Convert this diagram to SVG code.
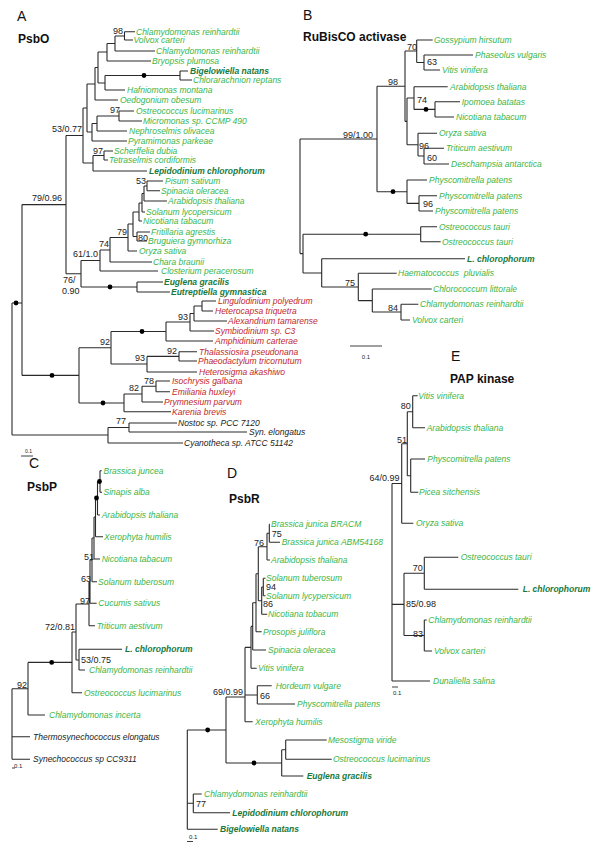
<svg xmlns="http://www.w3.org/2000/svg" width="600" height="848" viewBox="0 0 600 848">
<style>
text{font-family:"Liberation Sans",Arial,sans-serif}
.g{font-size:8.5px;font-style:italic;fill:#3ab54a}
.gb{font-size:8.5px;font-style:italic;font-weight:bold;fill:#17783c}
.r{font-size:8.5px;font-style:italic;fill:#c1272d}
.k{font-size:8.5px;font-style:italic;fill:#222}
.l{font-size:9px;fill:#222}
.s{font-size:6px;fill:#222}
.t{font-size:12px;font-weight:bold;fill:#111}
.p{font-size:14px;fill:#111}
.tr{fill:none;stroke:#2a2a2a;stroke-width:1.1}
.sb{fill:none;stroke:#2a2a2a;stroke-width:0.9}
</style>
<rect width="600" height="848" fill="#fff"/>

<!-- ===== Panel A ===== -->
<g id="A-title"><text class="p" x="17" y="21">A</text><text class="t" x="18" y="43">PsbO</text></g>
<g id="A-edges">
<path class="tr" d="M124.5 31.7H135M124.5 40H133M115 51H155M107 61H151M180 71H188M180 80H192M105 90H125M95 100H118M119 111H134M119 121H142M97 131H127M92 141H127M104 151H113M104 160H108M93 171H147M147 181H163M147 190.7H160M144 201H167M142 212H145M139 221H142M137 232H150M137 241H147M128 251H137M110 262H152M100 271H158M137 282H163M137 292H170M202 301H216M202 311H213M194 321H227M190 331H214M166 341H213M179 351.7H197M179 361H197M147 372H197M156 381H170M156 391.7H170M142 402H163M124 411.7H171M129 423H177M129 432H247M108 443H183"/>
<path class="tr" d="M124.5 31.7V40M115 36H124.5M115 36V51M107 43.5H115M107 43.5V61M98 52H107M180 71V80M105 75.5H180M105 75.5V90M98 83H105M98 52V83M95 67.5H98M95 67.5V100M87 84H95M119 111V121M97 116H119M97 116V131M92 123.5H97M92 123.5V141M87 132H92M87 84V132M83 108H87M104 151V160M93 155.5H104M93 155.5V171M83 163H93M83 108V163M66 135.5H83M147 181V190.7M144 186H147M144 186V201M142 193.5H144M142 193.5V212M139 203H142M139 203V221M133 212H139M137 232V241M133 236.5H137M133 212V236.5M128 224H133M128 224V251M110 237.5H128M110 237.5V262M100 250H110M100 250V271M81 260.5H100M137 282V292M81 287H137M81 260.5V287M66 273.7H81M66 135.5V273.7M22 204.6H66"/>
<path class="tr" d="M202 301V311M194 306H202M194 306V321M190 313.5H194M190 313.5V331M166 322H190M166 322V341M111 331.5H166M179 351.7V361M147 356.4H179M147 356.4V372M111 364H147M111 331.5V364M79 347.8H111M156 381V391.7M142 386.3H156M142 386.3V402M124 394H142M124 394V411.7M79 403H124M79 347.8V403M22 375.4H79M22 204.6V375.4M12 303H22M129 423V432M108 427.5H129M108 427.5V443M12 435H108M12 303V435"/>
<circle cx="144" cy="75.5" r="2.4"/><circle cx="110" cy="287" r="2.4"/><circle cx="142" cy="331.5" r="2.4"/><circle cx="103" cy="403" r="2.4"/><circle cx="52" cy="375.4" r="2.4"/><circle cx="16" cy="303" r="2.4"/>
<path class="sb" d="M21 456H33"/>
</g>
<g id="A-labels">
<text class="l" x="113" y="34">98</text><text class="l" x="110" y="113">97</text><text class="l" x="52" y="132">53/0.77</text><text class="l" x="93" y="153.5">97</text><text class="l" x="32" y="201">79/0.96</text><text class="l" x="136" y="184">53</text><text class="l" x="138" y="240.5">80</text><text class="l" x="117" y="235">79</text><text class="l" x="99" y="247">74</text><text class="l" x="73" y="257">61/1.0</text><text class="l" x="63" y="283">76/</text><text class="l" x="62" y="294">0.90</text><text class="l" x="178" y="320">93</text><text class="l" x="167" y="354">92</text><text class="l" x="135" y="361">93</text><text class="l" x="100" y="345">92</text><text class="l" x="144" y="384">78</text><text class="l" x="129" y="391">82</text><text class="l" x="116" y="424">77</text>
<text class="s" x="25" y="453" style="font-size:5px">0.1</text>
</g>
<g id="A-taxa">
<g id="A01"><text class="g" x="136" y="34.7">Chlamydomonas reinhardtii</text></g>
<g id="A02"><text class="g" x="133.5" y="43">Volvox carteri</text></g>
<g id="A03"><text class="g" x="156" y="54">Chlamydomonas reinhardtii</text></g>
<g id="A04"><text class="g" x="152" y="64">Bryopsis plumosa</text></g>
<g id="A05"><text class="gb" x="190" y="74">Bigelowiella natans</text></g>
<g id="A06"><text class="g" x="193" y="83">Chlorarachnion reptans</text></g>
<g id="A07"><text class="g" x="127" y="93">Hafniomonas montana</text></g>
<g id="A08"><text class="g" x="120" y="103">Oedogonium obesum</text></g>
<g id="A09"><text class="g" x="136" y="114">Ostreococcus lucimarinus</text></g>
<g id="A10"><text class="g" x="143" y="124">Micromonas sp. CCMP 490</text></g>
<g id="A11"><text class="g" x="129" y="134">Nephroselmis olivacea</text></g>
<g id="A12"><text class="g" x="128" y="144">Pyramimonas parkeae</text></g>
<g id="A13"><text class="g" x="114" y="154">Scherffelia dubia</text></g>
<g id="A14"><text class="g" x="109" y="163">Tetraselmis cordiformis</text></g>
<g id="A15"><text class="gb" x="149" y="174">Lepidodinium chlorophorum</text></g>
<g id="A16"><text class="g" x="165" y="184">Pisum sativum</text></g>
<g id="A17"><text class="g" x="161" y="193.7">Spinacia oleracea</text></g>
<g id="A18"><text class="g" x="168" y="204">Arabidopsis thaliana</text></g>
<g id="A19"><text class="g" x="146" y="215">Solanum lycopersicum</text></g>
<g id="A20"><text class="g" x="143" y="224">Nicotiana tabacum</text></g>
<g id="A21"><text class="g" x="151" y="235">Fritillaria agrestis</text></g>
<g id="A22"><text class="g" x="148" y="244">Bruguiera gymnorhiza</text></g>
<g id="A23"><text class="g" x="139" y="254">Oryza sativa</text></g>
<g id="A24"><text class="g" x="153" y="265">Chara braunii</text></g>
<g id="A25"><text class="g" x="161" y="274">Closterium peracerosum</text></g>
<g id="A26"><text class="gb" x="164" y="285">Euglena gracilis</text></g>
<g id="A27"><text class="gb" x="171" y="295">Eutreptiella gymnastica</text></g>
<g id="A28"><text class="r" x="218" y="304">Lingulodinium polyedrum</text></g>
<g id="A29"><text class="r" x="215" y="314">Heterocapsa triquetra</text></g>
<g id="A30"><text class="r" x="228" y="324">Alexandrium tamarense</text></g>
<g id="A31"><text class="r" x="215" y="334">Symbiodinium sp. C3</text></g>
<g id="A32"><text class="r" x="215" y="344">Amphidinium carterae</text></g>
<g id="A33"><text class="r" x="199" y="354.7">Thalassiosira pseudonana</text></g>
<g id="A34"><text class="r" x="198" y="364">Phaeodactylum tricornutum</text></g>
<g id="A35"><text class="r" x="199" y="375">Heterosigma akashiwo</text></g>
<g id="A36"><text class="r" x="172" y="384">Isochrysis galbana</text></g>
<g id="A37"><text class="r" x="172" y="394.7">Emiliania huxleyi</text></g>
<g id="A38"><text class="r" x="164" y="405">Prymnesium parvum</text></g>
<g id="A39"><text class="r" x="172" y="414.7">Karenia brevis</text></g>
<g id="A40"><text class="k" x="178" y="426">Nostoc sp. PCC 7120</text></g>
<g id="A41"><text class="k" x="249" y="435">Syn. elongatus</text></g>
<g id="A42"><text class="k" x="184" y="446">Cyanotheca sp. ATCC 51142</text></g>
</g>

<!-- ===== Panel B ===== -->
<g id="B-title"><text class="p" x="303" y="20">B</text><text class="t" x="303" y="41">RuBisCO activase</text></g>
<g id="B-edges">
<path class="tr" d="M416.7 40H432.7M424 55H473M424 70H440M414 86.7H447.7M435 101.7H460M435 117H454M418 133.3H437M424 148.3H444M424 164H449M407 180H427M419 195.7H437M419 211H433M420.7 226.7H437M420.7 241.7H440.7M321.7 258.7H465M358.3 273.3H396.7M372.3 289H431.7M401 304.3H418.3M401 320H410"/>
<path class="tr" d="M424 55V70M416.7 62.5H424M416.7 40V62.5M405 51H416.7M435 101.7V117M414 109.4H435M414 86.7V109.4M407 98H414M424 148.3V164M418 156H424M418 133.3V156M407 144.7H418M407 98V144.7M405 121.4H407M405 51V121.4M377 86.2H405M419 195.7V211M407 203.4H419M407 180V203.4M377 191.7H407M377 86.2V191.7M300 139H377M420.7 226.7V241.7M303 234.2H420.7M401 304.3V320M372.3 312H401M372.3 289V312M358.3 300.6H372.3M358.3 273.3V300.6M321.7 287H358.3M321.7 258.7V287M303 273H321.7M303 234.2V273M300 253.6H303M300 139V253.6"/>
<circle cx="426" cy="109.4" r="2.4"/><circle cx="393" cy="191.7" r="2.4"/><circle cx="365.7" cy="234.2" r="2.4"/>
<path class="sb" d="M350 346H382"/>
</g>
<g id="B-labels">
<text class="l" x="407" y="50">70</text><text class="l" x="427" y="65">63</text><text class="l" x="388" y="85">98</text><text class="l" x="417" y="102.7">74</text><text class="l" x="419" y="149">96</text><text class="l" x="427" y="160.7">60</text><text class="l" x="343" y="137.5">99/1.00</text><text class="l" x="423" y="206.7">96</text><text class="l" x="345" y="286">75</text><text class="l" x="388" y="311">84</text>
<text class="s" x="366" y="359" text-anchor="middle">0.1</text>
</g>
<g id="B-taxa">
<g id="B01"><text class="g" x="434" y="43">Gossypium hirsutum</text></g>
<g id="B02"><text class="g" x="475" y="58">Phaseolus vulgaris</text></g>
<g id="B03"><text class="g" x="442" y="73">Vitis vinifera</text></g>
<g id="B04"><text class="g" x="450" y="89.7">Arabidopsis thaliana</text></g>
<g id="B05"><text class="g" x="461.7" y="104.7">Ipomoea batatas</text></g>
<g id="B06"><text class="g" x="456" y="120">Nicotiana tabacum</text></g>
<g id="B07"><text class="g" x="439" y="136.3">Oryza sativa</text></g>
<g id="B08"><text class="g" x="446" y="151.3">Triticum aestivum</text></g>
<g id="B09"><text class="g" x="451" y="167">Deschampsia antarctica</text></g>
<g id="B10"><text class="g" x="429" y="183">Physcomitrella patens</text></g>
<g id="B11"><text class="g" x="439" y="198.7">Physcomitrella patens</text></g>
<g id="B12"><text class="g" x="435" y="214">Physcomitrella patens</text></g>
<g id="B13"><text class="g" x="439" y="229.7">Ostreococcus tauri</text></g>
<g id="B14"><text class="g" x="442" y="244.7">Ostreococcus tauri</text></g>
<g id="B15"><text class="gb" x="467" y="261.7">L. chlorophorum</text></g>
<g id="B16"><text class="g" x="398" y="276.3">Haematococcus&#160; pluvialis</text></g>
<g id="B17"><text class="g" x="433" y="292">Chlorococcum littorale</text></g>
<g id="B18"><text class="g" x="420" y="307.3">Chlamydomonas reinhardtii</text></g>
<g id="B19"><text class="g" x="412" y="323">Volvox carteri</text></g>
</g>

<!-- ===== Panel C ===== -->
<g id="C-title"><text class="p" x="29" y="468">C</text><text class="t" x="27" y="491">PsbP</text></g>
<g id="C-edges">
<path class="tr" d="M100 470.7H101.7M100 492.3H102M97.5 515H100M95.5 536.7H103M94 559H100M92 581.7H97M90 603.3H96.7M89 625.7H95M79 649.3H122M79 670H85M72 692.7H82M28 715H45M12 736.7H30M12 759.3H30"/>
<path class="tr" d="M100 470.7V492.3M97.5 481.5H100M97.5 481.5V515M95.5 498H97.5M95.5 498V536.7M94 517H95.5M94 517V559M92 538H94M92 538V581.7M90 560H92M90 560V603.3M89 582H90M89 582V625.7M76 604H89M79 649.3V670M76 660H79M76 604V660M72 632H76M72 632V692.7M28 662.4H72M28 662.4V715M12 688.7H28M12 688.7V759.3"/>
<circle cx="99.5" cy="481.5" r="2.4"/><circle cx="96.5" cy="498" r="2.4"/><circle cx="51.7" cy="662.4" r="2.4"/>
<path class="sb" d="M12 768H15"/>
</g>
<g id="C-labels">
<text class="l" x="84" y="560">51</text><text class="l" x="81" y="582">63</text><text class="l" x="80" y="604">97</text><text class="l" x="45" y="630">72/0.81</text><text class="l" x="81" y="663">53/0.75</text><text class="l" x="17" y="688">92</text>
<text class="s" x="14" y="768">0.1</text>
</g>
<g id="C-taxa">
<g id="C01"><text class="g" x="103.5" y="473.7">Brassica juncea</text></g>
<g id="C02"><text class="g" x="103.5" y="495.3">Sinapis alba</text></g>
<g id="C03"><text class="g" x="101.7" y="518">Arabidopsis thaliana</text></g>
<g id="C04"><text class="g" x="104" y="539.7">Xerophyta humilis</text></g>
<g id="C05"><text class="g" x="101.7" y="562">Nicotiana tabacum</text></g>
<g id="C06"><text class="g" x="98" y="584.7">Solanum tuberosum</text></g>
<g id="C07"><text class="g" x="98.3" y="606.3">Cucumis sativus</text></g>
<g id="C08"><text class="g" x="96.7" y="628.7">Triticum aestivum</text></g>
<g id="C09"><text class="gb" x="125" y="652.3">L. chlorophorum</text></g>
<g id="C10"><text class="g" x="89" y="673">Chlamydomonas reinhardtii</text></g>
<g id="C11"><text class="g" x="84" y="695.7">Ostreococcus lucimarinus</text></g>
<g id="C12"><text class="g" x="49" y="718">Chlamydomonas incerta</text></g>
<g id="C13"><text class="k" x="33" y="739.7">Thermosynechococcus elongatus</text></g>
<g id="C14"><text class="k" x="33" y="762.3">Synechococcus sp CC9311</text></g>
</g>

<!-- ===== Panel D ===== -->
<g id="D-title"><text class="p" x="227" y="478">D</text><text class="t" x="229" y="503">PsbR</text></g>
<g id="D-edges">
<path class="tr" d="M269.3 524.3H270M269.3 542.3H280M267 560H270M263.3 578.3H265.5M263.3 595.7H265.5M261.7 614.3H267.3M256 631.7H261.7M252.7 650H266M251 668.3H256.7M257.3 685.7H271.7M257.3 704H295M245 721.7H252.7M285.7 740H326.7M285.7 759.3H331.7M281.7 776H303.3M193.3 794H201.7M193.3 812.7H230M187.3 829.3H217.7"/>
<path class="tr" d="M269.3 524.3V542.3M267 533.3H269.3M267 533.3V560M258.3 546.7H267M263.3 578.3V595.7M261.7 587H263.3M261.7 587V614.3M258.3 600.7H261.7M258.3 546.7V600.7M256 573.7H258.3M256 573.7V631.7M252.7 602.7H256M252.7 602.7V650M251 626.4H252.7M251 626.4V668.3M245 647.4H251M257.3 685.7V704M245 695H257.3M245 647.4V721.7M226 697H245M285.7 740V759.3M281.7 749.7H285.7M281.7 749.7V776M226 763H281.7M226 697V763M187.3 730H226M193.3 794V812.7M187.3 803.3H193.3M187.3 730V829.3"/>
<circle cx="207.7" cy="730" r="2.4"/><circle cx="254" cy="763" r="2.4"/>
<path class="sb" d="M187 841.5H193"/>
</g>
<g id="D-labels">
<text class="l" x="271.7" y="536.7">75</text><text class="l" x="254" y="545.7">76</text><text class="l" x="266" y="590">94</text><text class="l" x="263" y="606.7">86</text><text class="l" x="260" y="699">66</text><text class="l" x="213" y="695">69/0.99</text><text class="l" x="196" y="807.3">77</text>
<text class="s" x="189" y="839">0.1</text>
</g>
<g id="D-taxa">
<g id="D01"><text class="g" x="271" y="527.3">Brassica junica BRACM</text></g>
<g id="D02"><text class="g" x="281.7" y="545.3">Brassica junica ABM54168</text></g>
<g id="D03"><text class="g" x="271" y="563">Arabidopsis thaliana</text></g>
<g id="D04"><text class="g" x="266" y="581.3">Solanum tuberosum</text></g>
<g id="D05"><text class="g" x="266" y="598.7">Solanum lycypersicum</text></g>
<g id="D06"><text class="g" x="268" y="617.3">Nicotiana tobacum</text></g>
<g id="D07"><text class="g" x="263" y="634.7">Prosopis juliflora</text></g>
<g id="D08"><text class="g" x="268" y="653">Spinacia oleracea</text></g>
<g id="D09"><text class="g" x="258" y="671.3">Vitis vinifera</text></g>
<g id="D10"><text class="g" x="275.7" y="688.7">Hordeum vulgare</text></g>
<g id="D11"><text class="g" x="297" y="707">Physcomitrella patens</text></g>
<g id="D12"><text class="g" x="255" y="724.7">Xerophyta humilis</text></g>
<g id="D13"><text class="g" x="328" y="743">Mesostigma viride</text></g>
<g id="D14"><text class="g" x="333" y="762.3">Ostreococcus lucimarinus</text></g>
<g id="D15"><text class="gb" x="306.7" y="779">Euglena gracilis</text></g>
<g id="D16"><text class="g" x="204" y="797">Chlamydomonas reinhardtii</text></g>
<g id="D17"><text class="gb" x="232.3" y="815.7">Lepidodinium chlorophorum</text></g>
<g id="D18"><text class="gb" x="220" y="832.3">Bigelowiella natans</text></g>
</g>

<!-- ===== Panel E ===== -->
<g id="E-title"><text class="p" x="451" y="361">E</text><text class="t" x="450" y="383">PAP kinase</text></g>
<g id="E-edges">
<path class="tr" d="M412.7 395.7H417.7M412.7 427.7H425M410.7 459H425M410.7 492.3H418.3M401.7 523.3H413.3M424.3 557.3H458.3M424.3 589.3H518.3M424.3 620H426.7M424.3 651H432M392 681H430"/>
<path class="tr" d="M412.7 395.7V427.7M407.3 411.7H412.7M410.7 459V492.3M407.3 475.7H410.7M407.3 411.7V475.7M401.7 443.7H407.3M401.7 443.7V523.3M392 483.5H401.7M424.3 557.3V589.3M404 573.3H424.3M424.3 620V651M404 635.5H424.3M404 573.3V635.5M392 604.4H404M392 483.5V681"/>
<path class="sb" d="M392 687H398"/>
</g>
<g id="E-labels">
<text class="l" x="400.7" y="409">80</text><text class="l" x="397" y="443.3">51</text><text class="l" x="399.5" y="481" text-anchor="end">64/0.99</text><text class="l" x="412.7" y="570.7">70</text><text class="l" x="406" y="607">85/0.98</text><text class="l" x="413" y="636.7">83</text>
<text class="s" x="393" y="695">0.1</text>
</g>
<g id="E-taxa">
<g id="E01"><text class="g" x="418.3" y="398.7">Vitis vinifera</text></g>
<g id="E02"><text class="g" x="426.7" y="430.7">Arabidopsis thaliana</text></g>
<g id="E03"><text class="g" x="427.3" y="462">Physcomitrella patens</text></g>
<g id="E04"><text class="g" x="419" y="495.3">Picea sitchensis</text></g>
<g id="E05"><text class="g" x="416" y="526.3">Oryza sativa</text></g>
<g id="E06"><text class="g" x="460.7" y="560.3">Ostreococcus tauri</text></g>
<g id="E07"><text class="gb" x="522.7" y="592.3">L. chlorophorum</text></g>
<g id="E08"><text class="g" x="428.3" y="623">Chlamydomonas reinhardtii</text></g>
<g id="E09"><text class="g" x="434" y="654">Volvox carteri</text></g>
<g id="E10"><text class="g" x="433" y="684">Dunaliella salina</text></g>
</g>
</svg>
